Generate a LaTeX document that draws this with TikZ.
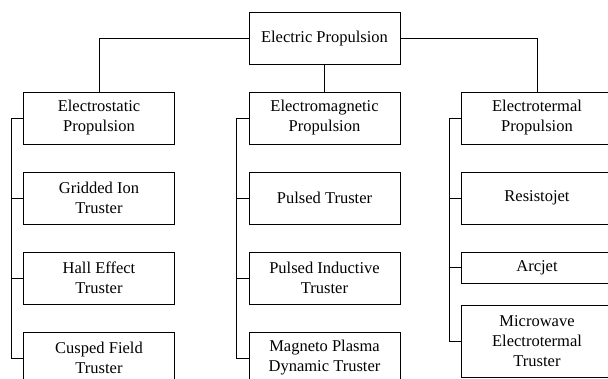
\documentclass[tikz,border=0pt]{standalone}
\usepackage{fontspec}
\setmainfont{Liberation Serif}
\begin{document}
\begin{tikzpicture}[x=1pt,y=1pt,
  box/.style={draw, line width=0.9pt, minimum width=151pt, minimum height=52pt, inner sep=0pt, align=center, font=\fontsize{16.5}{20}\selectfont},
  link/.style={draw, line width=0.9pt}]
\clip (0,0) rectangle (608,378);
\useasboundingbox (0,0) rectangle (608,378);
\node[box] (top) at (324.5,339.5) {Electric Propulsion};
\node[box] (es) at (99,260) {Electrostatic\\Propulsion};
\node[box] (em) at (324.5,260) {Electromagnetic\\Propulsion};
\node[box] (et) at (537,260) {Electrotermal\\Propulsion};
% left column
\node[box] (gi) at (99,180) {Gridded Ion\\Truster};
\node[box] (he) at (99,100) {Hall Effect\\Truster};
\node[box] (cf) at (99,20) {Cusped Field\\Truster};
% middle column
\node[box] (pt) at (324.5,180) {Pulsed Truster};
\node[box] (pi) at (324.5,100) {Pulsed Inductive\\Truster};
\node[box] (mp) at (324.5,20) {Magneto Plasma\\Dynamic Truster};
% right column
\node[box] (rj) at (537,180) {Resistojet};
\node[box, minimum height=31pt] (aj) at (537,110.5) {Arcjet};
\node[box, minimum height=72pt] (mw) at (537,37) {Microwave\\Electrotermal\\Truster};
% connectors
\draw[link] (top.west) -| (es.north);
\draw[link] (top.east) -| (et.north);
\draw[link] (top.south) -- (em.north);
\draw[link] (es.west) -- ++(-12,0) |- (cf.west);
\draw[link] (gi.west) -- ++(-12,0);
\draw[link] (he.west) -- ++(-12,0);
\draw[link] (em.west) -- ++(-12,0) |- (mp.west);
\draw[link] (pt.west) -- ++(-12,0);
\draw[link] (pi.west) -- ++(-12,0);
\draw[link] (et.west) -- ++(-12,0) |- (mw.west);
\draw[link] (rj.west) -- ++(-12,0);
\draw[link] (aj.west) -- ++(-12,0);
\end{tikzpicture}
\end{document}
